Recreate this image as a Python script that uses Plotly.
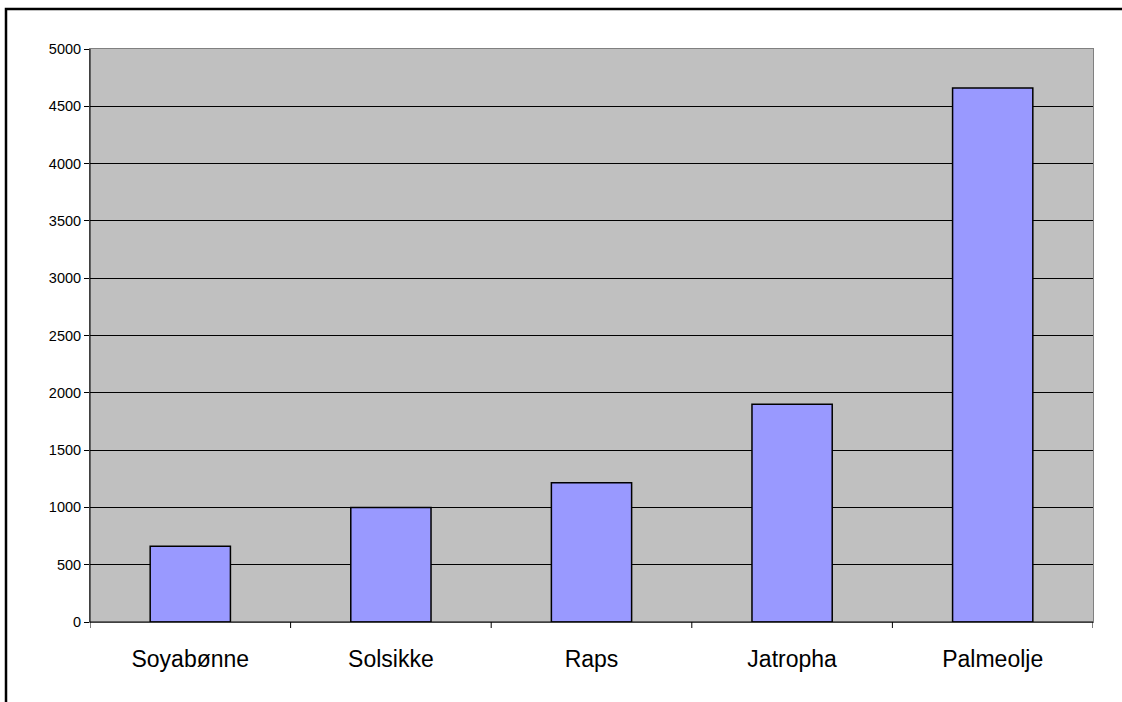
import plotly.graph_objects as go

categories = ["Soyabønne", "Solsikke", "Raps", "Jatropha", "Palmeolje"]
values = [660, 1000, 1215, 1900, 4660]
y_ticks = [0, 500, 1000, 1500, 2000, 2500, 3000, 3500, 4000, 4500, 5000]

W, H = 1122, 702
L, R, T, B = 90, 29, 49, 80
pw, ph = W - L - R, H - T - B

def px_x(px):
    return (px - L) / pw

def px_y(py):
    return (H - B - py) / ph

fig = go.Figure()
fig.add_trace(go.Bar(
    x=list(range(len(categories))), y=values,
    width=0.4,
    marker=dict(color="#9999FF", line=dict(color="#000000", width=1.5)),
    hoverinfo="x+y",
))

fig.update_layout(
    width=W, height=H,
    margin=dict(l=L, r=R, t=T, b=B, pad=0),
    paper_bgcolor="white",
    plot_bgcolor="#C0C0C0",
    showlegend=False,
    font=dict(family="Liberation Sans, Arial, sans-serif", color="#000000"),
    xaxis=dict(
        range=[-0.5, len(categories) - 0.5],
        tickmode="array",
        tickvals=list(range(len(categories))),
        ticktext=categories,
        ticks="",
        ticklabelstandoff=16,
        showgrid=False,
        zeroline=False,
        showline=True, linecolor="#808080", linewidth=1, mirror=True,
        tickfont=dict(size=23),
        fixedrange=True,
    ),
    yaxis=dict(
        range=[0, 5000],
        tickmode="array",
        tickvals=y_ticks,
        ticks="outside", ticklen=5, tickcolor="#000000", tickwidth=1,
        showgrid=True, gridcolor="#000000", gridwidth=1,
        zeroline=False,
        showline=True, linecolor="#808080", linewidth=1, mirror=True,
        tickfont=dict(size=14.5),
        fixedrange=True,
    ),
    bargap=0.6,
)

shapes = []
# category boundary tick marks below x-axis
for i in range(len(categories) + 1):
    xv = i - 0.5
    shapes.append(dict(type="line", xref="x", yref="paper", x0=xv, x1=xv,
                       y0=0, y1=-6 / ph, line=dict(color="#000000", width=1)))
# axis lines (darker on left and bottom)
shapes.append(dict(type="line", xref="paper", yref="paper", x0=0, x1=0, y0=0, y1=1,
                   line=dict(color="#000000", width=1)))
shapes.append(dict(type="line", xref="paper", yref="paper", x0=0, x1=1, y0=0, y1=0,
                   line=dict(color="#000000", width=1)))
# outer chart frame: only top and left edges visible
shapes.append(dict(type="path", xref="paper", yref="paper",
                   path=f"M {px_x(6)},{px_y(H + 5)} L {px_x(6)},{px_y(9)} L {px_x(W + 5)},{px_y(9)}",
                   line=dict(color="#000000", width=2.5), layer="above"))
fig.update_layout(shapes=shapes)

fig.write_html(
    "out.html",
    config={"displayModeBar": False},
    post_script="document.documentElement.style.overflow='hidden';"
                "document.body.style.overflow='hidden';"
                "document.body.style.margin='0';",
)
